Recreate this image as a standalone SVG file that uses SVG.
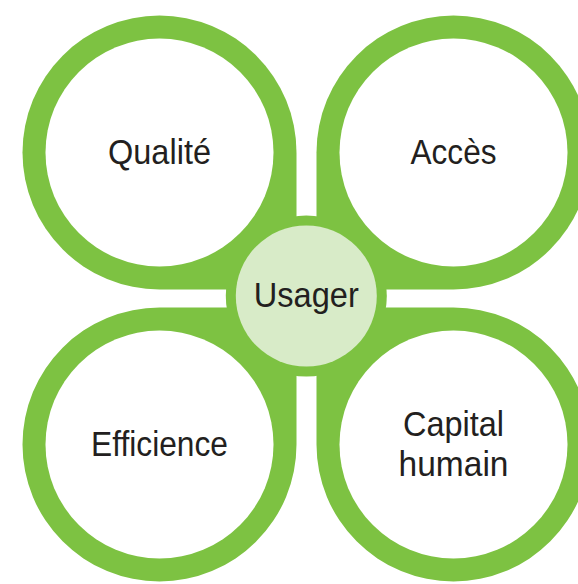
<svg xmlns="http://www.w3.org/2000/svg" width="578" height="584" viewBox="0 0 578 584">
<style>
.ring{fill:#7dc242}
.hole{fill:#ffffff}
.hub{fill:#d8ebc8}
.lbl{font-family:"Liberation Sans",Arial,sans-serif;font-size:35px;fill:#231f20;text-anchor:middle}
</style>
<rect width="578" height="584" fill="#ffffff"/>
<g id="usager-ring"><circle class="ring" cx="306.3" cy="296" r="80.5"/></g>
<g id="qualite">
<path class="ring" d="M296.5,152.5 L296.5,289.5 L159.5,289.5 A137,137 0 1 1 296.5,152.5 Z"/>
<circle class="hole" cx="159.5" cy="152.5" r="114"/>
<text class="lbl" x="159.5" y="163.5" textLength="103" lengthAdjust="spacingAndGlyphs">Qualité</text>
</g>
<g id="acces">
<path class="ring" d="M316.5,152.5 L316.5,289.5 L453.5,289.5 A137,137 0 1 0 316.5,152.5 Z"/>
<circle class="hole" cx="453.5" cy="152.5" r="114"/>
<text class="lbl" x="453.5" y="163.5" textLength="86" lengthAdjust="spacingAndGlyphs">Accès</text>
</g>
<g id="efficience">
<path class="ring" d="M296.5,444.5 L296.5,307.5 L159.5,307.5 A137,137 0 1 0 296.5,444.5 Z"/>
<circle class="hole" cx="159.5" cy="444.5" r="114"/>
<text class="lbl" x="159.5" y="455.5" textLength="137" lengthAdjust="spacingAndGlyphs">Efficience</text>
</g>
<g id="capital-humain">
<path class="ring" d="M316.5,444.5 L316.5,307.5 L453.5,307.5 A137,137 0 1 1 316.5,444.5 Z"/>
<circle class="hole" cx="453.5" cy="444.5" r="114"/>
<text class="lbl" x="453.5" y="435.5" textLength="101" lengthAdjust="spacingAndGlyphs">Capital</text>
<text class="lbl" x="453.5" y="475.5" textLength="110" lengthAdjust="spacingAndGlyphs">humain</text>
</g>
<g id="usager">
<circle class="hub" cx="306.3" cy="296" r="70.5"/>
<text class="lbl" x="306.3" y="306.5" textLength="105" lengthAdjust="spacingAndGlyphs">Usager</text>
</g>
</svg>
